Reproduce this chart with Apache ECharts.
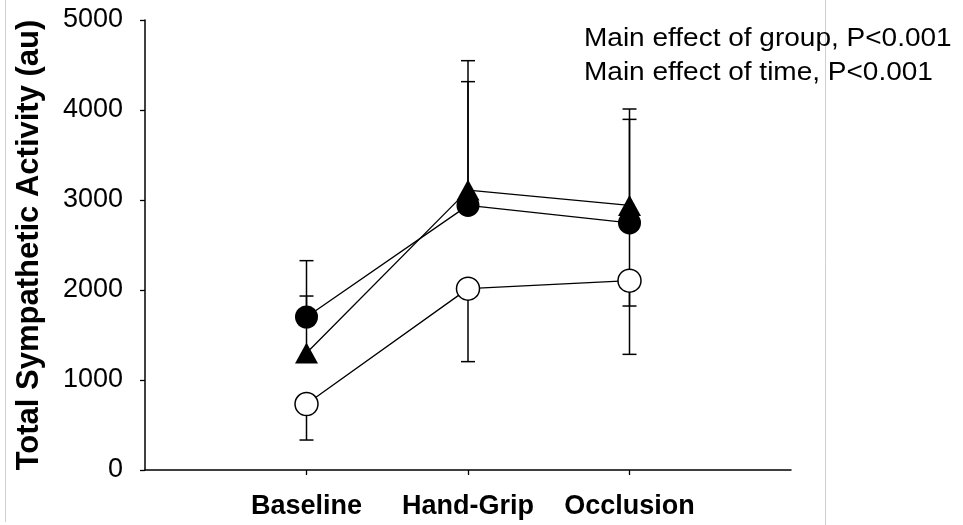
<!DOCTYPE html>
<html>
<head>
<meta charset="utf-8">
<script src="https://cdn.jsdelivr.net/npm/echarts@6/dist/echarts.min.js"></script>
<style>
  html, body { margin: 0; padding: 0; background: #fff; }
  #chart { width: 963px; height: 525px; }
</style>
</head>
<body>
<div id="chart"></div>
<script>
// Time points
const categories = ['Baseline', 'Hand-Grip', 'Occlusion'];
const yTicks = [0, 1000, 2000, 3000, 4000, 5000];

// Group means (au)
const filledCircle = [1700, 2940, 2745];
const filledTriangle = [1300, 3110, 2940];
const openCircle = [733, 2015, 2104];

// Error bar ends (au)
const filledCircleUpper = [2326, 4315, 3896];
const filledCircleLower = [1700, 2940, 1822];
const filledTriangleUpper = [1933, 4548, 4011];
const openCircleLower = [333, 1204, 1285];

const annotations = ['Main effect of group, P<0.001', 'Main effect of time, P<0.001'];

const FONT = '"Liberation Sans", Arial, sans-serif';

function pairs(values) {
  return values.map((v, i) => [i + 1, v]);
}
function barData(lows, highs) {
  return lows.map((lo, i) => [i + 1, lo, highs[i]]);
}

// Vertical whisker with a cap on the upper (capTop) or lower end
function makeErrorBar(capTop) {
  return function (params, api) {
    const x = api.value(0);
    const lo = api.coord([x, api.value(1)]);
    const hi = api.coord([x, api.value(2)]);
    const cap = 7;
    const style = { stroke: '#000', lineWidth: 1.5, fill: null };
    const children = [
      { type: 'line', shape: { x1: lo[0], y1: lo[1], x2: hi[0], y2: hi[1] }, style }
    ];
    if (api.value(2) !== api.value(1)) {
      const end = capTop ? hi : lo;
      children.push({ type: 'line', shape: { x1: end[0] - cap, y1: end[1], x2: end[0] + cap, y2: end[1] }, style });
    }
    return { type: 'group', children };
  };
}

const lineStyle = { color: '#000', width: 1.3 };

const chart = echarts.init(document.getElementById('chart'), null, { renderer: 'canvas' });
chart.setOption({
  backgroundColor: '#fff',
  animation: false,
  grid: { left: 145, right: 172, top: 20, bottom: 55, containLabel: false },
  xAxis: {
    type: 'value',
    min: 0,
    max: categories.length + 1,
    axisLine: { show: true, lineStyle: { color: '#000', width: 1.5 } },
    axisTick: { show: true, inside: false, length: 5, lineStyle: { color: '#000', width: 1.3 },
                customValues: categories.map((c, i) => i + 1) },
    axisLabel: {
      customValues: categories.map((c, i) => i + 1),
      formatter: v => categories[v - 1] || '',
      fontFamily: FONT, fontSize: 27, fontWeight: 'bold', color: '#000', margin: 23
    },
    splitLine: { show: false }
  },
  yAxis: {
    type: 'value',
    min: yTicks[0],
    max: yTicks[yTicks.length - 1],
    interval: 1000,
    name: 'Total Sympathetic Activity (au)',
    nameLocation: 'middle',
    nameRotate: 90,
    nameGap: 100,
    nameTextStyle: { fontFamily: FONT, fontSize: 31, fontWeight: 'bold', color: '#000' },
    axisLine: { show: true, lineStyle: { color: '#000', width: 1.5 } },
    axisTick: { show: true, inside: false, length: 5, lineStyle: { color: '#000', width: 1.3 } },
    axisLabel: { fontFamily: FONT, fontSize: 27, color: '#000', margin: 22, formatter: v => String(v) },
    splitLine: { show: false }
  },
  series: [
    { type: 'custom', name: 'circle-upper', renderItem: makeErrorBar(true),
      data: barData(filledCircle, filledCircleUpper), z: 1 },
    { type: 'custom', name: 'circle-lower', renderItem: makeErrorBar(false),
      data: barData(filledCircleLower, filledCircle), z: 1 },
    { type: 'custom', name: 'triangle-upper', renderItem: makeErrorBar(true),
      data: barData(filledTriangle, filledTriangleUpper), z: 1 },
    { type: 'custom', name: 'open-lower', renderItem: makeErrorBar(false),
      data: barData(openCircleLower, openCircle), z: 1 },
    { type: 'line', name: 'Open circle', data: pairs(openCircle), z: 3,
      symbol: 'circle', symbolSize: 23, showAllSymbol: true,
      lineStyle, itemStyle: { color: '#fff', borderColor: '#000', borderWidth: 1.5 } },
    { type: 'line', name: 'Filled circle', data: pairs(filledCircle), z: 4,
      symbol: 'circle', symbolSize: 23, showAllSymbol: true,
      lineStyle, itemStyle: { color: '#000', borderColor: '#000', borderWidth: 0 } },
    { type: 'line', name: 'Filled triangle', data: pairs(filledTriangle), z: 5,
      symbol: 'triangle', symbolSize: [23, 21], showAllSymbol: true,
      lineStyle, itemStyle: { color: '#000', borderColor: '#000', borderWidth: 0 } }
  ],
  graphic: [
    { type: 'line', shape: { x1: 5.5, y1: 0, x2: 5.5, y2: 522 }, style: { stroke: '#cfcfcf', lineWidth: 1 }, silent: true },
    { type: 'line', shape: { x1: 825.5, y1: 0, x2: 825.5, y2: 525 }, style: { stroke: '#cfcfcf', lineWidth: 1 }, silent: true },
    { type: 'text', x: 584, y: 39, scaleX: 1.12, z: 10,
      style: { text: annotations[0], font: '25px ' + FONT, fill: '#000', verticalAlign: 'middle' } },
    { type: 'text', x: 584, y: 73, scaleX: 1.12, z: 10,
      style: { text: annotations[1], font: '25px ' + FONT, fill: '#000', verticalAlign: 'middle' } }
  ]
});
</script>
</body>
</html>
